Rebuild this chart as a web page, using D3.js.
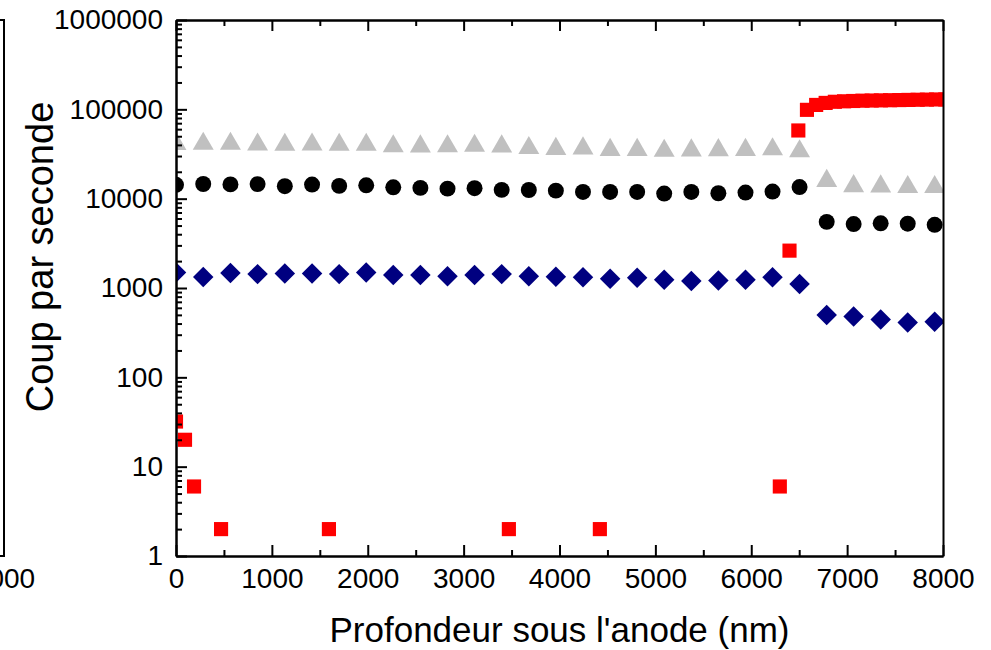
<!DOCTYPE html>
<html>
<head>
<meta charset="utf-8">
<script src="https://cdn.jsdelivr.net/npm/d3@7"></script>
<style>
  body { margin: 0; background: #fff; }
  svg { display: block; font-family: "Liberation Sans", Arial, sans-serif; }
  .axis path, .axis line { stroke: #000; stroke-width: 2; }
  .axis text { font-size: 28px; fill: #000; font-family: "Liberation Sans", Arial, sans-serif; }
</style>
</head>
<body>
<div id="chart"></div>
<script>
// depth (nm) shared by the gray / black / blue series
var depth = [0, 284, 568, 851, 1135, 1419, 1702, 1984, 2266, 2549, 2832, 3114, 3397, 3680, 3962, 4245, 4528, 4810, 5092, 5375, 5657, 5940, 6222, 6504, 6787, 7068, 7350, 7632, 7913];

var grayCps = [41000, 41200, 41200, 40400, 40100, 40400, 40100, 40100, 38600, 38400, 38600, 39100, 38400, 36900, 36100, 36600, 35200, 35200, 34400, 34700, 34900, 35100, 35700, 33900, 15800, 13800, 13700, 13500, 13500];
var blackCps = [14300, 14600, 14450, 14550, 13800, 14400, 13900, 14100, 13400, 13200, 12950, 13100, 12550, 12500, 12300, 11900, 11900, 11900, 11400, 11900, 11500, 11700, 12000, 13500, 5500, 5200, 5300, 5250, 5100];
var blueCps = [1490, 1330, 1470, 1430, 1450, 1450, 1430, 1490, 1400, 1400, 1350, 1400, 1430, 1350, 1340, 1320, 1270, 1300, 1240, 1200, 1210, 1240, 1320, 1110, 500, 480, 445, 410, 420];

// red series has its own depth points
var redDepth = [0, 94, 188, 470, 1595, 3472, 4421, 6298, 6399, 6491, 6581, 6677, 6776, 6872, 6968, 7064, 7160, 7256, 7352, 7448, 7544, 7640, 7736, 7832, 7928, 8024];
var redCps = [32, 20, 6, 2, 2, 2, 2, 6, 2620, 58000, 98700, 112000, 118000, 121500, 123000, 124000, 125000, 125500, 126000, 126500, 127000, 127500, 128000, 128500, 129000, 129000];

var xTicks = [0, 1000, 2000, 3000, 4000, 5000, 6000, 7000, 8000];
var xMinor = [500, 1500, 2500, 3500, 4500, 5500, 6500, 7500];
var yTicks = [1, 10, 100, 1000, 10000, 100000, 1000000];

var xTitle = "Profondeur sous l'anode (nm)";
var yTitle = "Coup par seconde";

var W = 991, H = 650;
var margin = {top: 20, right: 48, bottom: 94, left: 176},
	width = W - margin.left - margin.right,
	height = H - margin.top - margin.bottom;

var svg = d3.select("#chart")
	.append("svg")
	  .attr("width", W)
	  .attr("height", H);

// piece of the neighbouring panel on the left (its 8000 label is cut by the page edge)
svg.append("path")
	.attr("d", d3.line()([[0, margin.top], [4, margin.top], [4, margin.top + height], [0, margin.top + height]]))
	.attr("fill", "none")
	.attr("stroke", "#000")
	.attr("stroke-width", 2);
svg.append("text")
	.attr("x", 4)
	.attr("y", margin.top + height + 12)
	.attr("dy", "0.71em")
	.attr("text-anchor", "middle")
	.style("font-size", "28px")
	.text("8000");

var g = svg.append("g")
	.attr("transform", "translate(" + margin.left + "," + margin.top + ")");

var x = d3.scaleLinear().domain([0, 8000]).range([0, width]);
var y = d3.scaleLog().domain([1, 1000000]).range([height, 0]);

g.append("clipPath").attr("id", "plotclip")
  .append("rect").attr("width", width).attr("height", height);

var marks = g.append("g").attr("clip-path", "url(#plotclip)");

function addSeries(xs, ys, symbol, size, color, rot) {
	var pts = xs.map(function(d, i) { return [d, ys[i]]; });
	marks.append("g")
	  .selectAll("path")
	  .data(pts)
	  .enter().append("path")
		.attr("d", d3.symbol().type(symbol).size(size))
		.attr("transform", function(d) {
			return "translate(" + x(d[0]) + "," + y(d[1]) + ")" + (rot ? " rotate(45)" : "");
		})
		.attr("fill", color);
}

addSeries(redDepth, redCps, d3.symbolSquare, 200, "#ff0000");
addSeries(depth, blueCps, d3.symbolSquare, 210, "#000080", true);
addSeries(depth, blackCps, d3.symbolCircle, 200, "#000000");
addSeries(depth, grayCps, d3.symbolTriangle, 190, "#c0c0c0");

// minor ticks for log axis
var yMinor = [];
for (var e = 0; e < 6; e++) {
	for (var m = 2; m <= 9; m++) yMinor.push(m * Math.pow(10, e));
}

// axes
g.append("g").attr("class", "axis")
	.attr("transform", "translate(0," + height + ")")
	.call(d3.axisBottom(x).tickValues(xTicks).tickFormat(d3.format("d"))
		.tickSizeInner(-11).tickSizeOuter(0).tickPadding(12));
g.append("g").attr("class", "axis")
	.attr("transform", "translate(0," + height + ")")
	.call(d3.axisBottom(x).tickValues(xMinor).tickFormat("")
		.tickSizeInner(-6).tickSizeOuter(0));
g.append("g").attr("class", "axis")
	.call(d3.axisTop(x).tickValues(xTicks).tickFormat("")
		.tickSizeInner(-11).tickSizeOuter(0));
g.append("g").attr("class", "axis")
	.call(d3.axisTop(x).tickValues(xMinor).tickFormat("")
		.tickSizeInner(-6).tickSizeOuter(0));

g.append("g").attr("class", "axis")
	.call(d3.axisLeft(y).tickValues(yTicks).tickFormat(d3.format("d"))
		.tickSizeInner(-11).tickSizeOuter(0).tickPadding(13));
g.append("g").attr("class", "axis")
	.call(d3.axisLeft(y).tickValues(yMinor).tickFormat("")
		.tickSizeInner(-6).tickSizeOuter(0));
g.append("g").attr("class", "axis")
	.attr("transform", "translate(" + width + ",0)")
	.call(d3.axisRight(y).tickValues([]).tickSizeOuter(0));

// titles
g.append("text")
	.attr("x", width / 2)
	.attr("y", height + 86)
	.attr("text-anchor", "middle")
	.style("font-size", "35px")
	.text(xTitle);

g.append("text")
	.attr("transform", "translate(" + (53 - margin.left) + "," + (257 - margin.top) + ") rotate(-90)")
	.attr("text-anchor", "middle")
	.style("font-size", "38px")
	.text(yTitle);
</script>
</body>
</html>
